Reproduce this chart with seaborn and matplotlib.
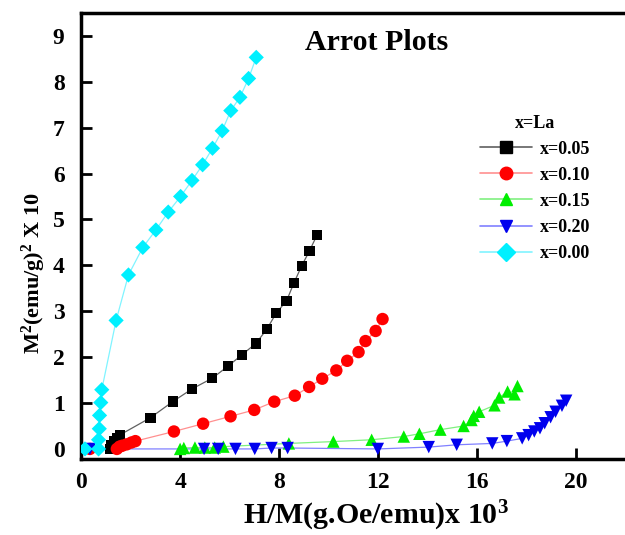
import matplotlib
matplotlib.use("Agg")
import matplotlib.pyplot as plt
from matplotlib.lines import Line2D
import seaborn as sns
import pandas as pd

# data (H/M in 10^3 g.Oe/emu, M^2 in (emu/g)^2 x 10)
x005 = [1.15, 1.22, 1.32, 1.44, 1.58, 2.80, 3.70, 4.49, 5.30, 5.93, 6.50, 7.07, 7.51, 7.89, 8.31, 8.60, 8.92, 9.23, 9.54]
y005 = [0.00, 0.08, 0.16, 0.23, 0.31, 0.68, 1.03, 1.31, 1.54, 1.80, 2.05, 2.30, 2.61, 2.96, 3.23, 3.61, 3.99, 4.31, 4.66]

x010 = [0.35, 1.44, 1.55, 1.66, 1.84, 2.03, 2.19, 3.75, 4.93, 6.04, 7.00, 7.81, 8.64, 9.22, 9.75, 10.32, 10.76, 11.22, 11.50, 11.91, 12.19]
y010 = [0.00, 0.00, 0.05, 0.07, 0.10, 0.14, 0.17, 0.38, 0.55, 0.71, 0.85, 1.03, 1.16, 1.35, 1.53, 1.71, 1.92, 2.11, 2.35, 2.57, 2.83]

x015 = [4.00, 4.15, 4.60, 5.00, 5.40, 5.75, 8.40, 10.20, 11.75, 13.05, 13.68, 14.53, 15.47, 15.79, 15.88, 16.10, 16.72, 16.91, 17.25, 17.53, 17.65]
y015 = [0.00, 0.02, 0.03, 0.03, 0.03, 0.05, 0.12, 0.16, 0.20, 0.27, 0.33, 0.42, 0.50, 0.63, 0.72, 0.81, 0.95, 1.12, 1.25, 1.19, 1.37]

x020 = [0.35, 4.97, 5.54, 6.24, 7.02, 7.70, 8.35, 12.00, 14.06, 15.19, 16.63, 17.22, 17.84, 18.10, 18.33, 18.56, 18.75, 18.99, 19.19, 19.45, 19.62]
y020 = [0.00, 0.00, 0.00, 0.00, 0.00, 0.02, 0.02, 0.00, 0.04, 0.09, 0.12, 0.17, 0.23, 0.30, 0.38, 0.45, 0.56, 0.69, 0.81, 0.94, 1.05]

x000 = [0.15, 0.70, 0.70, 0.73, 0.74, 0.79, 0.83, 1.41, 1.91, 2.49, 3.02, 3.52, 4.02, 4.48, 4.91, 5.31, 5.70, 6.05, 6.42, 6.77, 7.08]
y000 = [0.00, 0.00, 0.20, 0.44, 0.73, 1.01, 1.29, 2.80, 3.79, 4.39, 4.77, 5.16, 5.50, 5.85, 6.19, 6.55, 6.93, 7.37, 7.66, 8.07, 8.53]

labels = ["x=0.05", "x=0.10", "x=0.15", "x=0.20", "x=0.00"]

series = [
    (labels[0], x005, y005, "#000000", "#606060", "s", 55),
    (labels[1], x010, y010, "#ff0000", "#ff9090", "o", 80),
    (labels[2], x015, y015, "#00ee00", "#80f080", "^", 80),
    (labels[3], x020, y020, "#0000ee", "#8080ff", "v", 80),
    (labels[4], x000, y000, "#00f0ff", "#80f4ff", "D", 60),
]

sns.set_style("ticks")
plt.rcParams["font.family"] = ["Liberation Serif", "DejaVu Serif"]
plt.rcParams["font.weight"] = "bold"
plt.rcParams["text.color"] = "black"
plt.rcParams["axes.labelcolor"] = "black"
plt.rcParams["xtick.color"] = "black"
plt.rcParams["ytick.color"] = "black"
plt.rcParams["mathtext.fontset"] = "custom"
plt.rcParams["mathtext.rm"] = "Liberation Serif:bold"
plt.rcParams["mathtext.it"] = "Liberation Serif:bold"
plt.rcParams["mathtext.bf"] = "Liberation Serif:bold"

fig = plt.figure(figsize=(6.25, 5.35), dpi=100)
ax = fig.add_axes([0.13, 0.142, 0.87, 0.834])

handles = []
for name, xs, ys, dark, light, mk, sz in series:
    df = pd.DataFrame({"x": xs, "y": ys})
    sns.lineplot(data=df, x="x", y="y", sort=False, color=light, lw=0.9, ax=ax, legend=False)
    sns.scatterplot(data=df, x="x", y="y", marker=mk, s=sz, color=dark, edgecolor="none",
                    ax=ax, legend=False, zorder=3)
    handles.append(Line2D([0], [0], color=light, lw=1.2, marker=mk, markersize=9,
                          markerfacecolor=dark, markeredgecolor=dark, label=name))

ax.set_xlim(0, 22)
ax.set_ylim(-0.22, 9.5)
ax.set_xticks([0, 4, 8, 12, 16, 20])
ax.set_yticks(range(10))
ax.tick_params(axis="both", direction="in", length=8, width=2, labelsize=17, colors="black")
ax.tick_params(axis="x", pad=9)
ax.tick_params(axis="y", pad=12)
for lab in ax.get_xticklabels() + ax.get_yticklabels():
    lab.set_fontweight("bold")

for side in ["left", "bottom", "top"]:
    ax.spines[side].set_linewidth(2.5)
    ax.spines[side].set_color("black")
ax.spines["right"].set_visible(False)

ax.set_xlabel(r"H/M(g.Oe/emu)x 10$^{3}$", fontsize=21.5, fontweight="bold")
ax.xaxis.set_label_coords(0.542, -0.09)
ax.set_ylabel(r"M$^{2}$(emu/g)$^{2}$ X 10", fontsize=16, fontweight="bold")
ax.yaxis.set_label_coords(-0.062, 0.417)

ax.text(0.544, 0.964, "Arrot Plots", transform=ax.transAxes, ha="center", va="top",
        fontsize=21.5, fontweight="bold")

leg = ax.legend(handles=handles, title="x=La", loc="upper left", bbox_to_anchor=(0.71, 0.80),
                frameon=False, fontsize=13, title_fontsize=13, handlelength=2.9,
                labelspacing=0.5, handletextpad=0.4, borderpad=0.2)
leg.get_title().set_fontweight("bold")
for t in leg.get_texts():
    t.set_fontweight("bold")

fig.savefig("out.png", dpi=100)
